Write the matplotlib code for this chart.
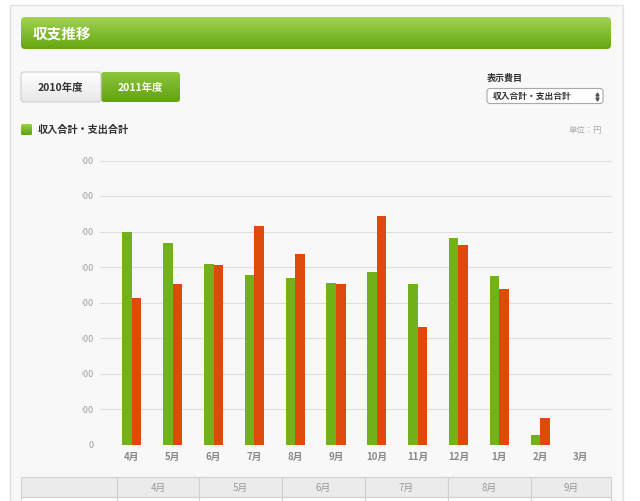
import numpy as np
import matplotlib
matplotlib.use('Agg')
import matplotlib.pyplot as plt
from matplotlib.patches import FancyBboxPatch, Rectangle
from matplotlib.colors import LinearSegmentedColormap
from matplotlib.transforms import Bbox, TransformedBbox

plt.rcParams['font.family'] = ['Noto Sans CJK JP', 'DejaVu Sans']

# データ
months = ['4月', '5月', '6月', '7月', '8月', '9月', '10月', '11月', '12月', '1月', '2月', '3月']
income = [600000, 568000, 508000, 479000, 471000, 457000, 487000, 453000, 583000, 476000, 28000, 0]
expense = [413000, 453000, 506000, 617000, 538000, 453000, 644000, 331000, 562000, 439000, 76000, 0]
yticks = list(range(0, 800001, 100000))
table_months = months[:6]

green = '#72b01c'
orange = '#de4a0c'

W, H = 640, 501
fig = plt.figure(figsize=(6.4, 5.01), dpi=100)
fig.patch.set_facecolor('white')

# 背景 (ピクセル座標)
bg = fig.add_axes([0, 0, 1, 1])
bg.axis('off')


def px(x0, y0, x1, y1):
    return [x0 / W, 1 - y1 / H, (x1 - x0) / W, (y1 - y0) / H]


def gradient_box(x0, y0, x1, y1, c_top, c_bot, r=3, edge=None):
    box = FancyBboxPatch((x0, y0), x1 - x0, y1 - y0, boxstyle=f'round,pad=0,rounding_size={r}',
                         facecolor='none', edgecolor=edge if edge else 'none', lw=0.8, zorder=3)
    bg.add_patch(box)
    cmap = LinearSegmentedColormap.from_list('g', [c_top, c_bot])
    grad = np.linspace(0, 1, 64).reshape(-1, 1)
    im = bg.imshow(grad, extent=(x0, x1, y1, y0), aspect='auto', cmap=cmap, zorder=2)
    im.set_clip_path(box)


# パネル
bg.add_patch(Rectangle((10, 5), 613, 510, facecolor='#f8f8f8', edgecolor='#e0e0e0', lw=1, zorder=1))

# タイトルバー
gradient_box(21, 17, 611, 49, '#a2d252', '#66a612', r=4)
bg.text(33, 33.5, '収支推移', color='white', fontsize=10.5, fontweight='bold', va='center', ha='left', zorder=4)

# 年度ボタン
gradient_box(21, 72, 101, 102, '#ffffff', '#e8e8e8', r=3, edge='#cfcfcf')
gradient_box(101, 72, 180, 102, '#8cc63c', '#62a210', r=3)
bg.text(60, 87.5, '2010年度', color='#333333', fontsize=7.5, fontweight='bold', ha='center', va='center', zorder=4)
bg.text(140, 87.5, '2011年度', color='white', fontsize=7.5, fontweight='bold', ha='center', va='center', zorder=4)

# 表示費目
bg.text(487, 78.5, '表示費目', color='#333333', fontsize=6.5, fontweight='bold', va='center', ha='left', zorder=4)
bg.add_patch(FancyBboxPatch((487, 88.5), 116, 15, boxstyle='round,pad=0,rounding_size=3',
                            facecolor='white', edgecolor='#aaaaaa', lw=0.8, zorder=3))
bg.text(493, 96, '収入合計・支出合計', color='#333333', fontsize=6.3, fontweight='bold',
        va='center', ha='left', zorder=4)
bg.plot([596.5], [94], marker='^', ms=2.2, color='#555555', zorder=4)
bg.plot([596.5], [98.5], marker='v', ms=2.2, color='#555555', zorder=4)

# 凡例見出し
gradient_box(21, 124, 32, 135, '#9ccf4c', '#5f9e10', r=1.5)
bg.text(38, 129.5, '収入合計・支出合計', color='#333333', fontsize=7.3, fontweight='bold',
        va='center', ha='left', zorder=4)
bg.text(602, 131, '単位：円', color='#aaaaaa', fontsize=6, va='center', ha='right', zorder=4)

# 表
cols = [21, 117, 199, 282, 365, 448, 531, 611]
for i in range(len(cols) - 1):
    bg.add_patch(Rectangle((cols[i], 477), cols[i + 1] - cols[i], 20, facecolor='#ebebeb',
                           edgecolor='#d0d0d0', lw=0.8, zorder=3))
    bg.add_patch(Rectangle((cols[i], 497), cols[i + 1] - cols[i], 20, facecolor='white',
                           edgecolor='#d0d0d0', lw=0.8, zorder=3))
for i, m in enumerate(table_months):
    bg.text((cols[i + 1] + cols[i + 2]) / 2, 487.5, m, color='#999999', fontsize=7,
            ha='center', va='center', zorder=4)

bg.set_xlim(0, W)
bg.set_ylim(H, 0)

# グラフ
ax = fig.add_axes(px(100, 160.7, 612, 445))
ax.set_facecolor('none')
x = np.arange(len(months))
w = 0.235
ax.bar(x - w / 2, income, w, color=green, linewidth=0, zorder=3)
ax.bar(x + w / 2, expense, w, color=orange, linewidth=0, zorder=3)

ax.set_xlim(-0.78, 11.76)
ax.set_ylim(0, 800000)
ax.set_yticks(yticks)
ax.yaxis.grid(True, color='#dedede', lw=0.8)
ax.set_axisbelow(True)
ax.tick_params(axis='y', length=0, labelleft=False)
ax.set_xticks(x, months)
ax.tick_params(axis='x', length=0, pad=5, labelsize=7, labelcolor='#8a8a8a')
for lab in ax.get_xticklabels():
    lab.set_fontweight('bold')
for s in ax.spines.values():
    s.set_visible(False)

# 目盛ラベル (左端が切れている)
clipbox = TransformedBbox(Bbox.from_extents(82 / W, 0, 100 / W, 1), fig.transFigure)
for v in yticks:
    t = ax.text(-0.012, v, f'{v:,}', transform=ax.get_yaxis_transform(), ha='right', va='center',
                fontsize=6.5, color='#a0a0a0')
    t.set_clip_on(True)
    t.set_clip_box(clipbox)

fig.savefig('out.png', dpi=100)
